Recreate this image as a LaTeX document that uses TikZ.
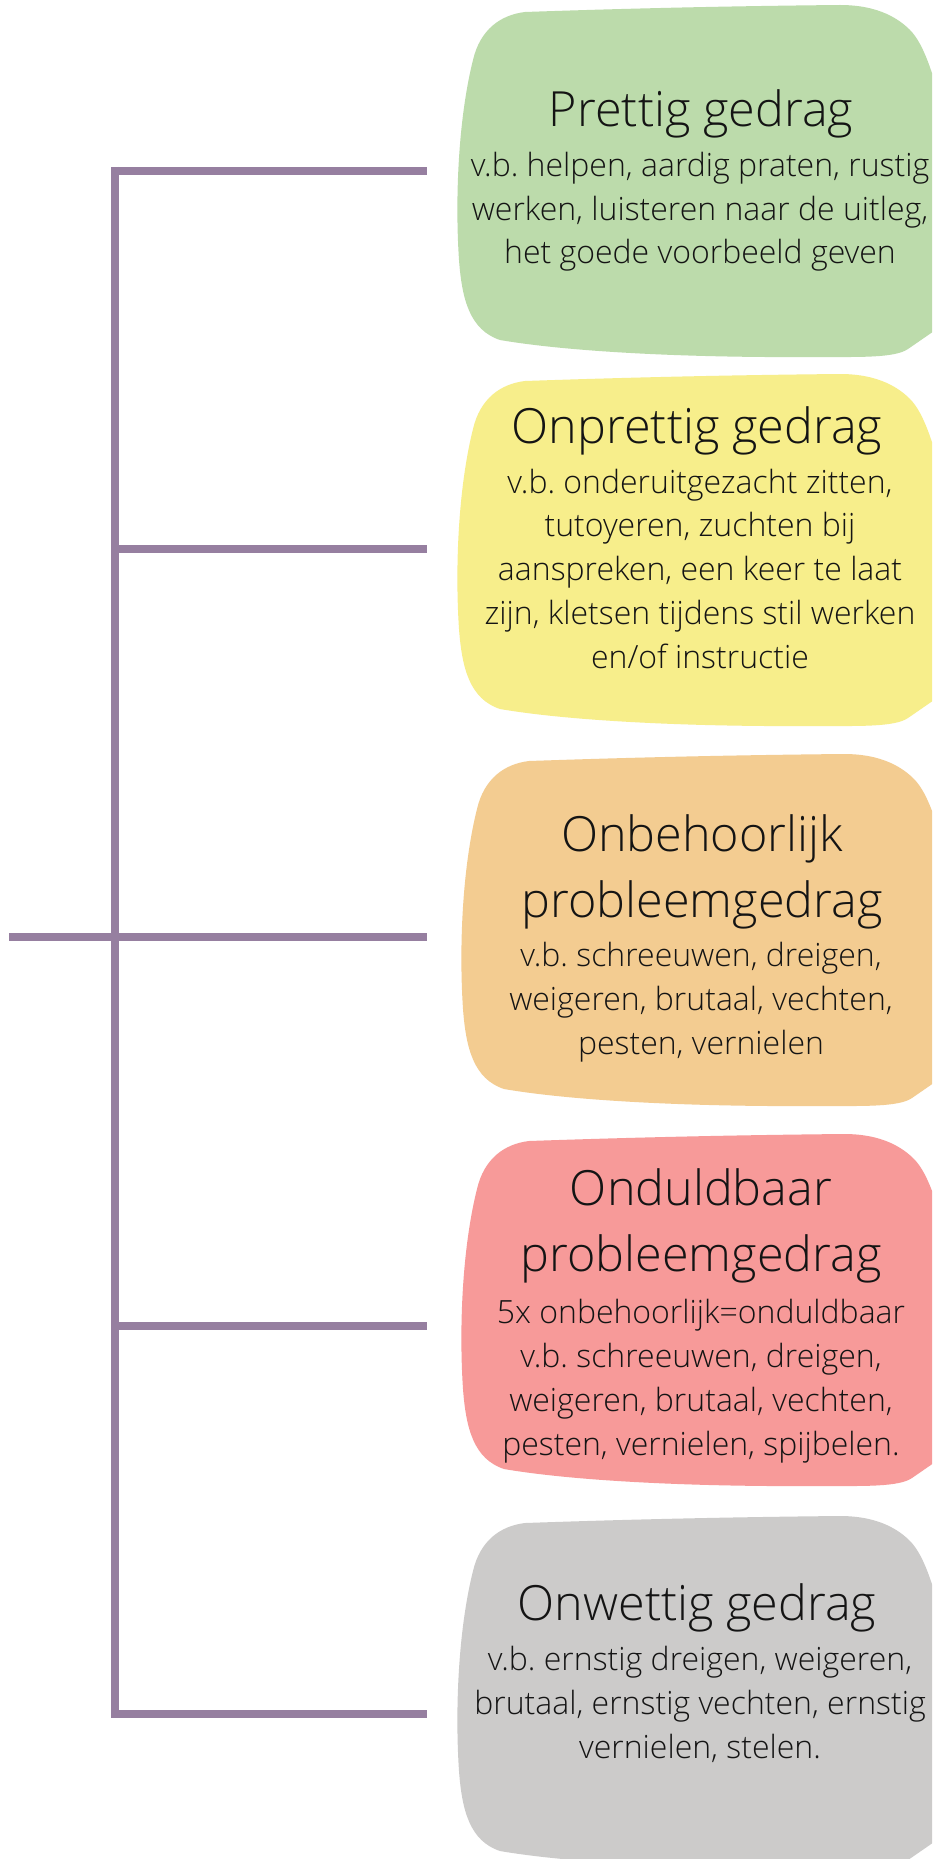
\documentclass[tikz,border=0pt]{standalone}
\usepackage{fontspec}
\setmainfont{Open Sans}[UprightFont=* Light]
\frenchspacing
\definecolor{lineC}{RGB}{150,127,160}
\definecolor{greenC}{RGB}{188,219,171}
\definecolor{yellowC}{RGB}{247,238,139}
\definecolor{orangeC}{RGB}{243,204,145}
\definecolor{redC}{RGB}{247,154,153}
\definecolor{greyC}{RGB}{204,203,202}
\definecolor{textC}{RGB}{20,20,20}
\tikzset{
  blob/.pic={
    \fill[pic actions] (85,12) .. controls (200,8) and (300,6) .. (400,5)
      .. controls (440,5) and (460,20) .. (470,30)
      .. controls (485,45) and (495,80) .. (505,120)
      -- (510,320) -- (468,349)
      .. controls (455,358) and (420,357) .. (380,357)
      .. controls (250,358) and (130,352) .. (60,340)
      .. controls (30,330) and (22,300) .. (19,260)
      .. controls (15,200) and (18,120) .. (33,60)
      .. controls (40,30) and (60,15) .. (85,12) -- cycle;
  },
  conn/.style={draw=lineC, line width=8.5pt},
  titletext/.style={font=\fontsize{48.5}{66}\selectfont\frenchspacing, align=center, anchor=base, inner sep=0pt, text=textC},
  bodytext/.style={font=\fontsize{32}{43.7}\selectfont\frenchspacing, align=center, anchor=base, inner sep=0pt, text=textC}
}
\begin{document}
\begin{tikzpicture}[x=1pt,y=-1pt]
\useasboundingbox (0,0) rectangle (932,1859);
\clip (0,0) rectangle (932,1859);
\fill[white] (0,0) rectangle (932,1859);

% blobs
\pic[fill=greenC] at (440,0) {blob};
\pic[fill=yellowC] at (440,369) {blob};
\pic[fill=orangeC] at (444,749) {blob};
\pic[fill=redC] at (444,1129) {blob};
\pic[fill=greyC] at (440,1511) {blob};

% connector coordinates
\coordinate (vtop) at (115,167);
\coordinate (vbot) at (115,1718);
\coordinate (s1) at (115,171);  \coordinate (e1) at (427,171);
\coordinate (s2) at (115,549);  \coordinate (e2) at (427,549);
\coordinate (s3) at (115,937);  \coordinate (e3) at (427,937);
\coordinate (s4) at (115,1326); \coordinate (e4) at (427,1326);
\coordinate (s5) at (115,1714); \coordinate (e5) at (427,1714);
\coordinate (stub) at (9,937);

\draw[conn] (vtop) -- (vbot);
\draw[conn] (s1) -- (e1);
\draw[conn] (s2) -- (e2);
\draw[conn] (s3) -- (e3);
\draw[conn] (s4) -- (e4);
\draw[conn] (s5) -- (e5);
\draw[conn] (stub) -- (s3);

% texts (anchor=base sits on the last line's baseline)
\node[titletext] (gT) at (701,127) {Prettig gedrag};
\node[bodytext] (gB) at (700,264) {v.b. helpen, aardig praten, rustig\\werken, luisteren naar de uitleg,\\het goede voorbeeld geven};

\node[titletext] (yT) at (697,443) {Onprettig gedrag};
\node[bodytext] (yB) at (700,668) {v.b. onderuitgezacht zitten,\\tutoyeren, zuchten bij\\aanspreken, een keer te laat\\zijn, kletsen tijdens stil werken\\en/of instructie};

\node[titletext] (oT) at (702,917) {Onbehoorlijk\\probleemgedrag};
\node[bodytext] (oB) at (701,1054) {v.b. schreeuwen, dreigen,\\weigeren, brutaal, vechten,\\pesten, vernielen};

\node[titletext] (rT) at (701,1271) {Onduldbaar\\probleemgedrag};
\node[bodytext] (rB) at (701,1455) {5x onbehoorlijk=onduldbaar\\v.b. schreeuwen, dreigen,\\weigeren, brutaal, vechten,\\pesten, vernielen, spijbelen.};

\node[titletext] (grT) at (697,1620) {Onwettig gedrag};
\node[bodytext] (grB) at (700,1758) {v.b. ernstig dreigen, weigeren,\\brutaal, ernstig vechten, ernstig\\vernielen, stelen.};
\end{tikzpicture}
\end{document}
